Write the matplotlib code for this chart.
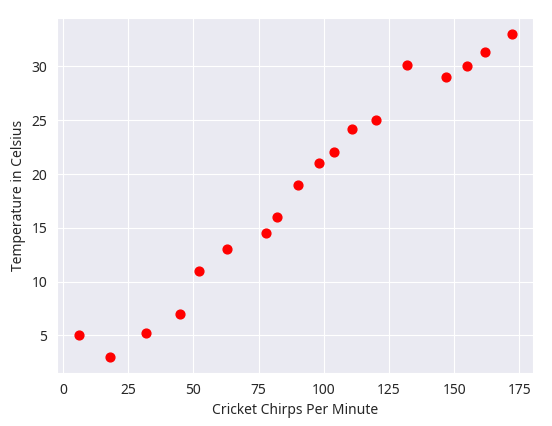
import numpy as np
import seaborn as sns
from matplotlib import pyplot as plt

# chirps per minute vs temperature
chirps = [6, 18, 32, 45, 52, 63, 78, 82, 90, 98, 104, 111, 120, 132, 147, 155, 162, 172]
temps = [5, 3, 5.2, 7, 11, 13, 14.5, 16, 19, 21, 22, 24.2, 25, 30.1, 29, 30, 31.3, 33]

sns.set_style("darkgrid")
plt.rcParams['font.family'] = ['Noto Sans', 'DejaVu Sans']

fig = plt.figure(figsize=(5.52, 4.26), dpi=100)
ax = fig.add_subplot(111)
fig.subplots_adjust(left=0.103, right=0.966, top=0.958, bottom=0.124)

ax.scatter(chirps, temps, color="red", s=40)
ax.set_xlabel("Cricket Chirps Per Minute")
ax.set_ylabel("Temperature in Celsius")

fig.savefig("out.png", dpi=100)
